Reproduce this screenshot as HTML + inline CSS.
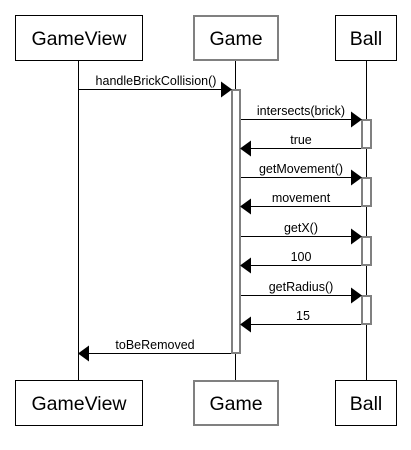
<!DOCTYPE html>
<html><head><meta charset="utf-8"><style>
html,body{margin:0;padding:0;background:#fff;}
svg{display:block;}
text{font-family:"Liberation Sans",Arial,sans-serif;fill:#000;}
</style></head><body>
<svg width="411" height="450" viewBox="0 0 411 450" xmlns="http://www.w3.org/2000/svg">
<rect width="411" height="450" fill="#fff"/>
<line x1="78.5" y1="60" x2="78.5" y2="380" stroke="#000"/>
<line x1="235.5" y1="60" x2="235.5" y2="380" stroke="#000"/>
<line x1="366.5" y1="60" x2="366.5" y2="380" stroke="#000"/>
<rect x="15.5" y="15.5" width="127" height="45" fill="#fff" stroke="#000"/>
<rect x="194" y="16" width="84" height="44" fill="#fff" stroke="#808080" stroke-width="2"/>
<rect x="335.5" y="15.5" width="61" height="45" fill="#fff" stroke="#000"/>
<text x="79" y="45" font-size="19.5" text-anchor="middle">GameView</text>
<text x="236" y="45" font-size="19.5" text-anchor="middle">Game</text>
<text x="366" y="45" font-size="19.5" text-anchor="middle">Ball</text>
<rect x="15.5" y="380.5" width="127" height="45" fill="#fff" stroke="#000"/>
<rect x="194" y="381" width="84" height="44" fill="#fff" stroke="#808080" stroke-width="2"/>
<rect x="335.5" y="380.5" width="61" height="45" fill="#fff" stroke="#000"/>
<text x="79" y="410" font-size="19.5" text-anchor="middle">GameView</text>
<text x="236" y="410" font-size="19.5" text-anchor="middle">Game</text>
<text x="366" y="410" font-size="19.5" text-anchor="middle">Ball</text>
<g fill="#fff" stroke="#808080" stroke-width="2">
<rect x="232" y="90" width="8" height="263"/>
<rect x="362" y="120" width="9" height="28"/>
<rect x="362" y="178" width="9" height="28"/>
<rect x="362" y="237" width="9" height="28"/>
<rect x="362" y="296" width="9" height="28"/>
</g>
<g stroke="#000">
<line x1="78" y1="89.5" x2="222" y2="89.5"/>
<line x1="241" y1="119.5" x2="352" y2="119.5"/>
<line x1="250" y1="148.5" x2="361" y2="148.5"/>
<line x1="241" y1="177.5" x2="352" y2="177.5"/>
<line x1="250" y1="206.5" x2="361" y2="206.5"/>
<line x1="241" y1="236.5" x2="352" y2="236.5"/>
<line x1="250" y1="265.5" x2="361" y2="265.5"/>
<line x1="241" y1="295.5" x2="352" y2="295.5"/>
<line x1="250" y1="324.5" x2="361" y2="324.5"/>
<line x1="88" y1="353.5" x2="231" y2="353.5"/>
</g>
<g fill="#000">
<polygon points="232,89.5 221,81.5 221,97.5"/>
<polygon points="362,119.5 351,111.5 351,127.5"/>
<polygon points="240,148.5 251,140.5 251,156.5"/>
<polygon points="362,177.5 351,169.5 351,185.5"/>
<polygon points="240,206.5 251,198.5 251,214.5"/>
<polygon points="362,236.5 351,228.5 351,244.5"/>
<polygon points="240,265.5 251,257.5 251,273.5"/>
<polygon points="362,295.5 351,287.5 351,303.5"/>
<polygon points="240,324.5 251,316.5 251,332.5"/>
<polygon points="78,353.5 89,345.5 89,361.5"/>
</g>
<g font-size="12.5" text-anchor="middle">
<text x="156" y="85">handleBrickCollision()</text>
<text x="301" y="115">intersects(brick)</text>
<text x="301" y="144">true</text>
<text x="301" y="173">getMovement()</text>
<text x="301" y="202">movement</text>
<text x="301" y="232">getX()</text>
<text x="301" y="261">100</text>
<text x="301" y="291">getRadius()</text>
<text x="303" y="320">15</text>
<text x="155" y="349">toBeRemoved</text>
</g>
</svg>
</body></html>
